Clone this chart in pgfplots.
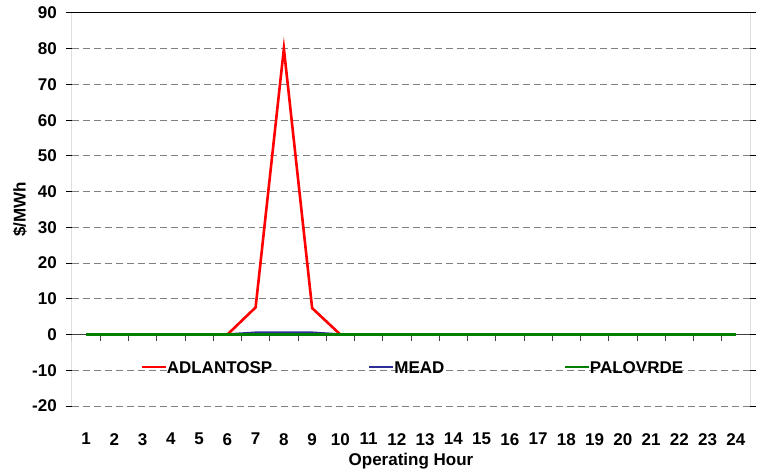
\documentclass[border=0pt]{standalone}
\usepackage{fontspec}
\setmainfont{Liberation Sans}
\usepackage{pgfplots}
\pgfplotsset{compat=1.18}
\definecolor{meadblue}{RGB}{45,45,150}
\definecolor{palogreen}{RGB}{0,128,0}
\definecolor{gridgray}{RGB}{128,128,128}
\begin{document}
\begin{tikzpicture}
\begin{axis}[
  at={(0,0)}, anchor=south west,
  scale only axis, width=678bp, height=393bp,
  xmin=0.5, xmax=24.5, ymin=-20, ymax=90,
  xtick={1,...,24}, ytick={-20,-10,...,90},
  font=\fontsize{17bp}{20bp}\selectfont\bfseries,
  tick label style={font=\fontsize{17bp}{20bp}\selectfont\bfseries},
  /pgf/number format/assume math mode=true,
  axis line style={draw=none},
  ymajorgrids, grid style={gridgray, dash pattern=on 7bp off 4bp, line width=1bp},
  x tick style={draw=none},
  y tick style={black, line width=1bp},
  tick align=outside, major tick length=6bp,
  xticklabel style={inner sep=0pt, anchor=north, yshift=-21bp},
  yticklabel style={inner sep=0pt, anchor=east, xshift=-9bp},
  xlabel={Operating Hour}, ylabel={\$/MWh},
  xlabel style={at={(rel axis cs:0.5,0)}, anchor=center, yshift=-55bp},
  ylabel style={at={(rel axis cs:0,0.5)}, anchor=center, yshift=52bp},
  extra y ticks={0}, extra y tick labels={},
  extra y tick style={grid style={solid, black!75, line width=1.2bp}, tick style={draw=none}},
  legend columns=3,
  legend style={draw=none, fill=none, at={(rel axis cs:0.1003,0.097)}, anchor=west,
    inner sep=0pt, column sep=0pt, nodes={inner sep=0pt, anchor=base west},
    /tikz/every even column/.append style={column sep=4bp}},
  legend image code/.code={\path[draw=none, fill=none] (0bp,0bp) -- (24bp,0bp); \draw[#1] (0bp,6bp) -- (24bp,6bp);},
]
\pgfplotsinvokeforeach{0.5,1.5,...,23.5}{
  \draw[black!75, line width=1bp] (axis cs:#1,0) -- ++(0bp,-6bp);
}
\addplot[red, line width=2.6bp] coordinates {
(1,0)(2,0)(3,0)(4,0)(5,0)(6,0)(7,7.6)(8,80)(9,7.4)(10,0)(11,0)(12,0)
(13,0)(14,0)(15,0)(16,0)(17,0)(18,0)(19,0)(20,0)(21,0)(22,0)(23,0)(24,0)};
\addlegendentry{\makebox[197bp][l]{ADLANTOSP}}
\addplot[meadblue, line width=2.6bp] coordinates {
(1,0)(2,0)(3,0)(4,0)(5,0)(6,0)(7,0.5)(8,0.5)(9,0.5)(10,0)(11,0)(12,0)
(13,0)(14,0)(15,0)(16,0)(17,0)(18,0)(19,0)(20,0)(21,0)(22,0)(23,0)(24,0)};
\addlegendentry{\makebox[165bp][l]{MEAD}}
\addplot[palogreen, line width=2.6bp] coordinates {
(1,0)(2,0)(3,0)(4,0)(5,0)(6,0)(7,0)(8,0)(9,0)(10,0)(11,0)(12,0)
(13,0)(14,0)(15,0)(16,0)(17,0)(18,0)(19,0)(20,0)(21,0)(22,0)(23,0)(24,0)};
\addlegendentry{PALOVRDE}
\draw[black, line width=1bp] (rel axis cs:0,0) -- (rel axis cs:0,1) -- (rel axis cs:1,1) -- (rel axis cs:1,0);
\end{axis}
\pgfresetboundingbox
\path (-72bp,-67bp) rectangle (685bp,406bp);
\end{tikzpicture}
\end{document}
